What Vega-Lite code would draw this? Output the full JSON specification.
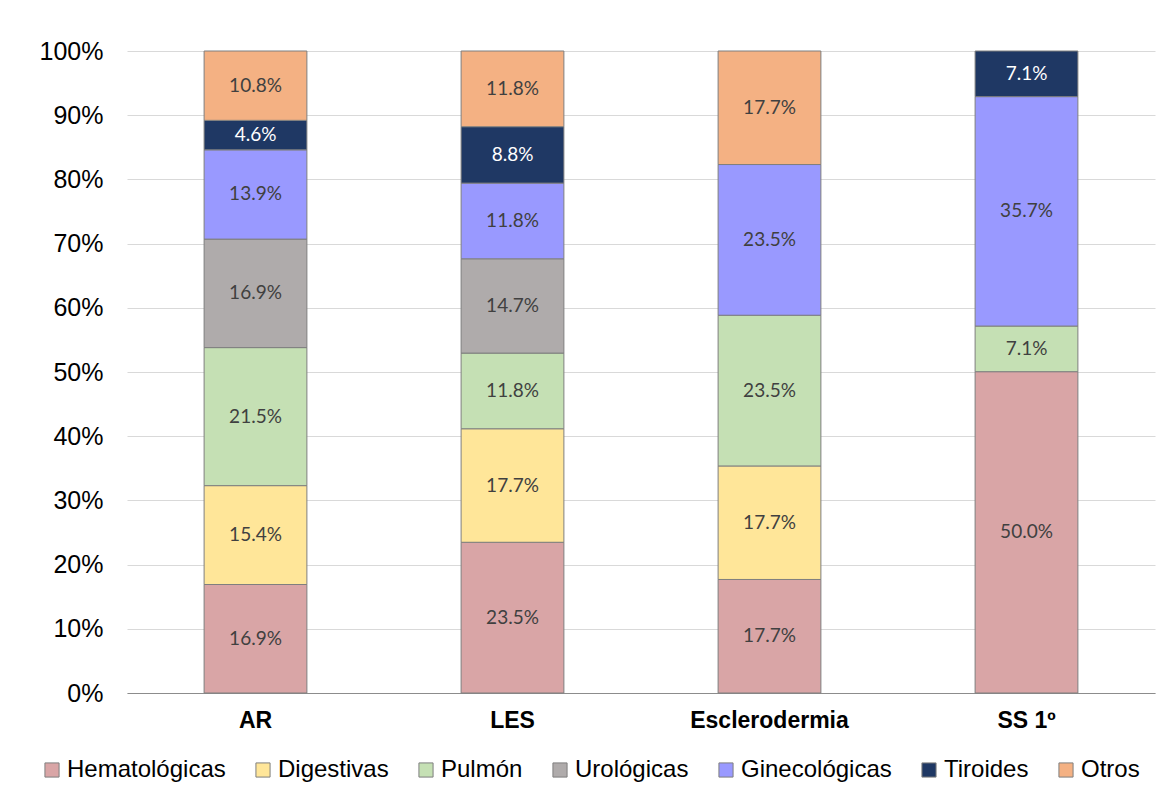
{
  "$schema": "https://vega.github.io/schema/vega-lite/v6.json",
  "width": 1028,
  "height": 642,
  "autosize": {"type": "none"},
  "padding": {"left": 127, "top": 51, "right": 11, "bottom": 107},
  "background": "white",
  "data": {
    "values": [
      {"cat": "AR", "s": "Hematológicas", "o": 1, "v": 16.9},
      {"cat": "AR", "s": "Digestivas", "o": 2, "v": 15.4},
      {"cat": "AR", "s": "Pulmón", "o": 3, "v": 21.5},
      {"cat": "AR", "s": "Urológicas", "o": 4, "v": 16.9},
      {"cat": "AR", "s": "Ginecológicas", "o": 5, "v": 13.9},
      {"cat": "AR", "s": "Tiroides", "o": 6, "v": 4.6},
      {"cat": "AR", "s": "Otros", "o": 7, "v": 10.8},
      {"cat": "LES", "s": "Hematológicas", "o": 1, "v": 23.5},
      {"cat": "LES", "s": "Digestivas", "o": 2, "v": 17.7},
      {"cat": "LES", "s": "Pulmón", "o": 3, "v": 11.8},
      {"cat": "LES", "s": "Urológicas", "o": 4, "v": 14.7},
      {"cat": "LES", "s": "Ginecológicas", "o": 5, "v": 11.8},
      {"cat": "LES", "s": "Tiroides", "o": 6, "v": 8.8},
      {"cat": "LES", "s": "Otros", "o": 7, "v": 11.8},
      {"cat": "Esclerodermia", "s": "Hematológicas", "o": 1, "v": 17.7},
      {"cat": "Esclerodermia", "s": "Digestivas", "o": 2, "v": 17.7},
      {"cat": "Esclerodermia", "s": "Pulmón", "o": 3, "v": 23.5},
      {"cat": "Esclerodermia", "s": "Ginecológicas", "o": 5, "v": 23.5},
      {"cat": "Esclerodermia", "s": "Otros", "o": 7, "v": 17.7},
      {"cat": "SS 1º", "s": "Hematológicas", "o": 1, "v": 50.0},
      {"cat": "SS 1º", "s": "Pulmón", "o": 3, "v": 7.1},
      {"cat": "SS 1º", "s": "Ginecológicas", "o": 5, "v": 35.7},
      {"cat": "SS 1º", "s": "Tiroides", "o": 6, "v": 7.1}
    ]
  },
  "transform": [
    {"stack": "v", "groupby": ["cat"], "sort": [{"field": "o", "order": "ascending"}], "offset": "normalize", "as": ["y0", "y1"]},
    {"calculate": "(datum.y0 + datum.y1) / 2", "as": "ym"},
    {"calculate": "format(datum.v, '.1f') + '%'", "as": "lbl"}
  ],
  "encoding": {
    "x": {
      "field": "cat",
      "type": "nominal",
      "sort": ["AR", "LES", "Esclerodermia", "SS 1º"],
      "scale": {"paddingInner": 0.6, "paddingOuter": 0.3},
      "axis": {
        "title": null,
        "labelAngle": 0,
        "labelFont": "Liberation Sans",
        "labelFontSize": 23,
        "labelFontWeight": "bold",
        "labelColor": "#000000",
        "labelPadding": 16,
        "ticks": false,
        "domainColor": "#8c8c8c",
        "domainWidth": 1,
        "grid": false
      }
    }
  },
  "layer": [
    {
      "mark": {"type": "bar", "stroke": "#7f7f7f", "strokeWidth": 1},
      "encoding": {
        "y": {
          "field": "y0",
          "type": "quantitative",
          "scale": {"domain": [0, 1], "nice": false},
          "axis": {
            "title": null,
            "format": ".0%",
            "values": [0, 0.1, 0.2, 0.3, 0.4, 0.5, 0.6, 0.7, 0.8, 0.9, 1],
            "labelFont": "Liberation Sans",
            "labelFontSize": 25,
            "labelColor": "#000000",
            "labelPadding": 24,
            "ticks": false,
            "domain": false,
            "grid": true,
            "gridColor": "#d9d9d9",
            "gridWidth": 1
          }
        },
        "y2": {"field": "y1"},
        "color": {
          "field": "s",
          "type": "nominal",
          "scale": {
            "domain": ["Hematológicas", "Digestivas", "Pulmón", "Urológicas", "Ginecológicas", "Tiroides", "Otros"],
            "range": ["#d9a5a6", "#ffe699", "#c5e0b4", "#afabab", "#9999ff", "#1f3864", "#f4b183"]
          },
          "legend": {
            "title": null,
            "orient": "none",
            "direction": "horizontal",
            "legendX": -87,
            "legendY": 707,
            "symbolType": "square",
            "symbolSize": 200,
            "symbolStrokeColor": "#7f7f7f",
            "symbolStrokeWidth": 1,
            "labelFont": "Liberation Sans",
            "labelFontSize": 24,
            "labelColor": "#000000",
            "labelOffset": 3,
            "columnPadding": 25
          }
        }
      }
    },
    {
      "mark": {"type": "text", "font": "Lato", "fontSize": 19, "baseline": "middle", "align": "center"},
      "encoding": {
        "y": {"field": "ym", "type": "quantitative"},
        "text": {"field": "lbl"},
        "color": {
          "condition": {"test": "datum.s === 'Tiroides'", "value": "#ffffff"},
          "value": "#404040"
        }
      }
    }
  ],
  "config": {"view": {"stroke": null}}
}
